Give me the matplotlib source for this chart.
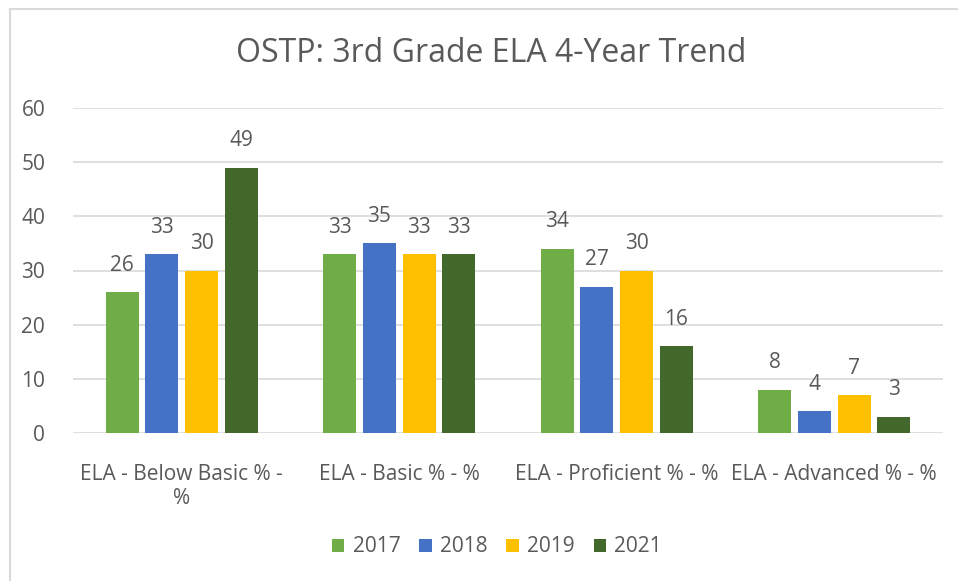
import numpy as np
import matplotlib
matplotlib.use("Agg")
import matplotlib.pyplot as plt

categories = ["ELA - Below Basic % -\n%", "ELA - Basic % - %", "ELA - Proficient % - %", "ELA - Advanced % - %"]
years = ["2017", "2018", "2019", "2021"]
v2017 = [26, 33, 34, 8]
v2018 = [33, 35, 27, 4]
v2019 = [30, 33, 30, 7]
v2021 = [49, 33, 16, 3]
colors = ["#70AD47", "#4472C4", "#FFC000", "#43682B"]

plt.rcParams["font.family"] = ["Open Sans", "DejaVu Sans"]
txt = "#595959"
fs = 15

fig = plt.figure(figsize=(9.58, 5.81), dpi=100)
ax = fig.add_axes([73 / 958, 1 - 433 / 581, 870 / 958, 325 / 581])

x = np.arange(len(categories))
step = 0.182
width = 0.152
series = [v2017, v2018, v2019, v2021]
for i, (vals, yr, c) in enumerate(zip(series, years, colors)):
    pos = x + (i - 1.5) * step
    bars = ax.bar(pos, vals, width, color=c, label=yr, zorder=3)
    for b, v in zip(bars, vals):
        ax.text(b.get_x() + b.get_width() / 2, v + 5, str(v), ha="center", va="center",
                fontsize=fs, color=txt)

ax.set_xlim(-0.5, 3.5)
ax.set_ylim(0, 60)
ax.set_yticks(range(0, 61, 10))
ax.yaxis.grid(True, color="#D9D9D9", linewidth=1.2, zorder=0)
for s in ax.spines.values():
    s.set_visible(False)
ax.tick_params(axis="both", length=0, labelsize=fs, labelcolor=txt)
ax.tick_params(axis="y", pad=20)
ax.tick_params(axis="x", pad=22)
ax.set_xticks(x)
ax.set_xticklabels(categories, linespacing=1.2)

fig.text(491 / 958, 1 - 54 / 581, "OSTP: 3rd Grade ELA 4-Year Trend", ha="center", va="center",
         fontsize=23, color=txt)

fig.legend(loc="center", bbox_to_anchor=(497 / 958, 1 - 547 / 581), ncol=4, frameon=False,
           fontsize=fs, labelcolor=txt, handlelength=0.6, handleheight=0.6,
           handletextpad=0.4, columnspacing=0.9)

# chart border (top and left visible)
fig.add_artist(plt.Line2D([10 / 958, 10 / 958], [0, 1 - 9 / 581], color="#D9D9D9", linewidth=1.5,
                          transform=fig.transFigure))
fig.add_artist(plt.Line2D([10 / 958, 1], [1 - 9 / 581, 1 - 9 / 581], color="#D9D9D9", linewidth=1.5,
                          transform=fig.transFigure))

fig.savefig("out.png", dpi=100)
